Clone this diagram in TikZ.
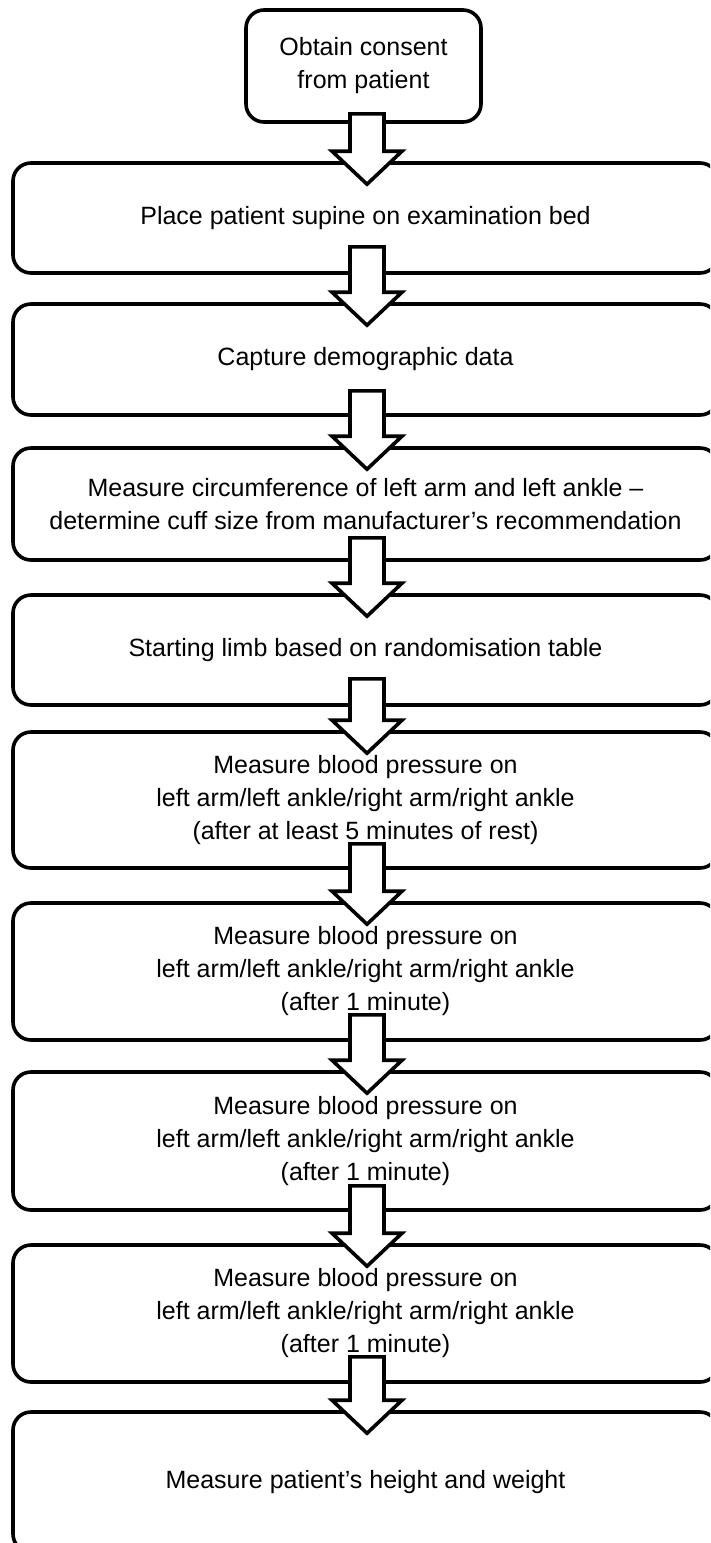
\documentclass[tikz,border=0pt]{standalone}
\usepackage{fontspec}
\setmainfont{Liberation Sans}
\usetikzlibrary{calc}
\tikzset{
  x=1pt, y=-1pt,
  box/.style={draw=black, line width=3.6pt, rounded corners=18pt, fill=white, inner sep=0pt,
    align=center, font=\fontsize{25}{33}\selectfont},
  blk/.style={draw=black, fill=white, line width=3.6pt, line join=miter},
}
\newcommand\flowarrow[3]{% #1 from, #2 to, #3 offset above bottom
  \draw[blk] let \p1=(#1.south), \p2=(#2.north) in
   (350pt,\y1+#3pt) -- (384pt,\y1+#3pt) -- (384pt,\y2-23pt+33pt) -- (402pt,\y2-23pt+33pt)
   -- (367pt,\y2-23pt) -- (332pt,\y2-23pt+33pt) -- (350pt,\y2-23pt+33pt) -- cycle;}
\begin{document}
\begin{tikzpicture}
\useasboundingbox (0,0) rectangle (710,1543);
\clip (0,0) rectangle (710,1543);
\node[box, minimum width=235pt, minimum height=112pt] (b1) at (363.5,66) {Obtain consent\\from patient};
\node[box, minimum width=705pt, minimum height=110pt] (b2) at (365.5,218) {Place patient supine on examination bed};
\node[box, minimum width=705pt, minimum height=111pt] (b3) at (365.5,359.5) {Capture demographic data};
\node[box, minimum width=705pt, minimum height=112pt] (b4) at (365.5,504) {Measure circumference of left arm and left ankle –\\determine cuff size from manufacturer’s recommendation};
\node[box, minimum width=705pt, minimum height=110pt] (b5) at (365.5,650) {Starting limb based on randomisation table};
\node[box, minimum width=705pt, minimum height=136pt] (b6) at (365.5,800) {Measure blood pressure on\\left arm/left ankle/right arm/right ankle\\(after at least 5 minutes of rest)};
\node[box, minimum width=705pt, minimum height=137pt] (b7) at (365.5,971.5) {Measure blood pressure on\\left arm/left ankle/right arm/right ankle\\(after 1 minute)};
\node[box, minimum width=705pt, minimum height=138pt] (b8) at (365.5,1141) {Measure blood pressure on\\left arm/left ankle/right arm/right ankle\\(after 1 minute)};
\node[box, minimum width=705pt, minimum height=137pt] (b9) at (365.5,1313.5) {Measure blood pressure on\\left arm/left ankle/right arm/right ankle\\(after 1 minute)};
\node[box, minimum width=705pt, minimum height=140pt] (b10) at (365.5,1482) {Measure patient’s height and weight};

\flowarrow{b1}{b2}{10}
\flowarrow{b2}{b3}{28}
\flowarrow{b3}{b4}{26}
\flowarrow{b4}{b5}{24}
\flowarrow{b5}{b6}{28}
\flowarrow{b6}{b7}{26}
\flowarrow{b7}{b8}{27}
\flowarrow{b8}{b9}{26}
\flowarrow{b9}{b10}{27}
\end{tikzpicture}
\end{document}
